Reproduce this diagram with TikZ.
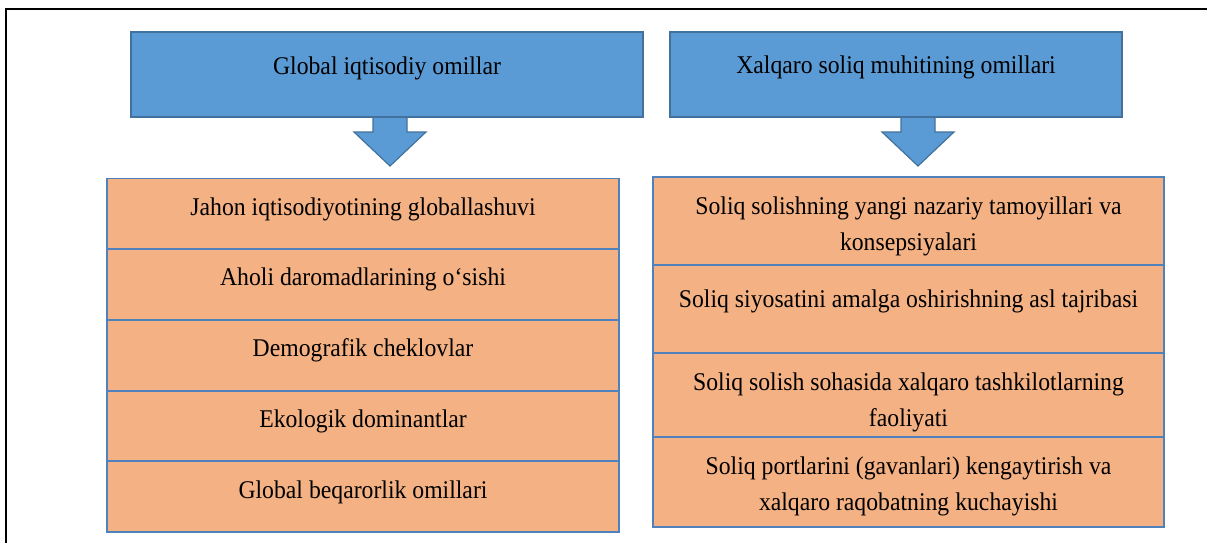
\documentclass[tikz,border=0pt]{standalone}
\usepackage{fontspec}
\newfontfamily\tnr[FakeStretch=0.93]{Liberation Serif}
\definecolor{boxblue}{HTML}{5B9BD5}
\definecolor{boxline}{HTML}{41719C}
\definecolor{cellfill}{HTML}{F4B183}
\definecolor{cellline}{HTML}{4F81BD}
\begin{document}
\begin{tikzpicture}[x=1pt,y=-1pt,
  titlebox/.style={draw=boxline, fill=boxblue, line width=1.2pt, minimum height=85pt, inner sep=0pt},
  cellbox/.style={draw=cellline, fill=cellfill, line width=1.8pt, inner sep=0pt},
  txt/.style={anchor=north, inner sep=0pt, align=center, font=\tnr\fontsize{25.5}{36}\selectfont},
  blockarrow/.style={fill=boxblue, draw=boxline, line width=1.2pt, line join=miter}]
\useasboundingbox (0,0) rectangle (1207,543);
\draw[line width=2pt] (1207,9) -- (6,9) -- (6,543);

% block arrows (drawn first so that the boxes cover their top ends)
\coordinate (la) at (390,114);
\coordinate (ra) at (918,114);
\draw[blockarrow] (la) ++(-17,0) -- ++(0,18) -- ++(-19,0) -- ++(36,34) -- ++(36,-34) -- ++(-19,0) -- ++(0,-18) -- cycle;
\draw[blockarrow] (ra) ++(-17,0) -- ++(0,18) -- ++(-19,0) -- ++(36,34) -- ++(36,-34) -- ++(-19,0) -- ++(0,-18) -- cycle;

% title boxes
\node[titlebox, minimum width=512pt] (gt) at (387,74.5) {};
\node[txt] (gtt) at (387,48.8) {\strut Global iqtisodiy omillar};
\node[titlebox, minimum width=452pt] (xt) at (896,74.5) {};
\node[txt] (xtt) at (896,48.3) {\strut Xalqaro soliq muhitining omillari};

% left table
\node[cellbox, minimum width=512pt, minimum height=70.7pt] (l1) at (363,213.85) {};
\node[cellbox, minimum width=512pt, minimum height=70.7pt] (l2) at (363,284.55) {};
\node[cellbox, minimum width=512pt, minimum height=70.7pt] (l3) at (363,355.25) {};
\node[cellbox, minimum width=512pt, minimum height=70.7pt] (l4) at (363,425.95) {};
\node[cellbox, minimum width=512pt, minimum height=70.7pt] (l5) at (363,496.65) {};
\node[txt] (l1t) at (363,189.8) {\strut Jahon iqtisodiyotining globallashuvi};
\node[txt] (l2t) at (363,260.5) {\strut Aholi daromadlarining o‘sishi};
\node[txt] (l3t) at (363,331.2) {\strut Demografik cheklovlar};
\node[txt] (l4t) at (363,401.9) {\strut Ekologik dominantlar};
\node[txt] (l5t) at (363,472.6) {\strut Global beqarorlik omillari};

% right table
\node[cellbox, minimum width=511pt, minimum height=88pt] (r1) at (908.5,221) {};
\node[cellbox, minimum width=511pt, minimum height=88pt] (r2) at (908.5,309) {};
\node[cellbox, minimum width=511pt, minimum height=84pt] (r3) at (908.5,395) {};
\node[cellbox, minimum width=511pt, minimum height=90pt] (r4) at (908.5,482) {};
\node[txt] (r1t) at (908.5,188.8) {\strut Soliq solishning yangi nazariy tamoyillari va\\ konsepsiyalari};
\node[txt] (r2t) at (908.5,281.8) {\strut Soliq siyosatini amalga oshirishning asl tajribasi};
\node[txt] (r3t) at (908.5,364.8) {\strut Soliq solish sohasida xalqaro tashkilotlarning\\ faoliyati};
\node[txt] (r4t) at (908.5,448.8) {\strut Soliq portlarini (gavanlari) kengaytirish va\\ xalqaro raqobatning kuchayishi};
\end{tikzpicture}
\end{document}
